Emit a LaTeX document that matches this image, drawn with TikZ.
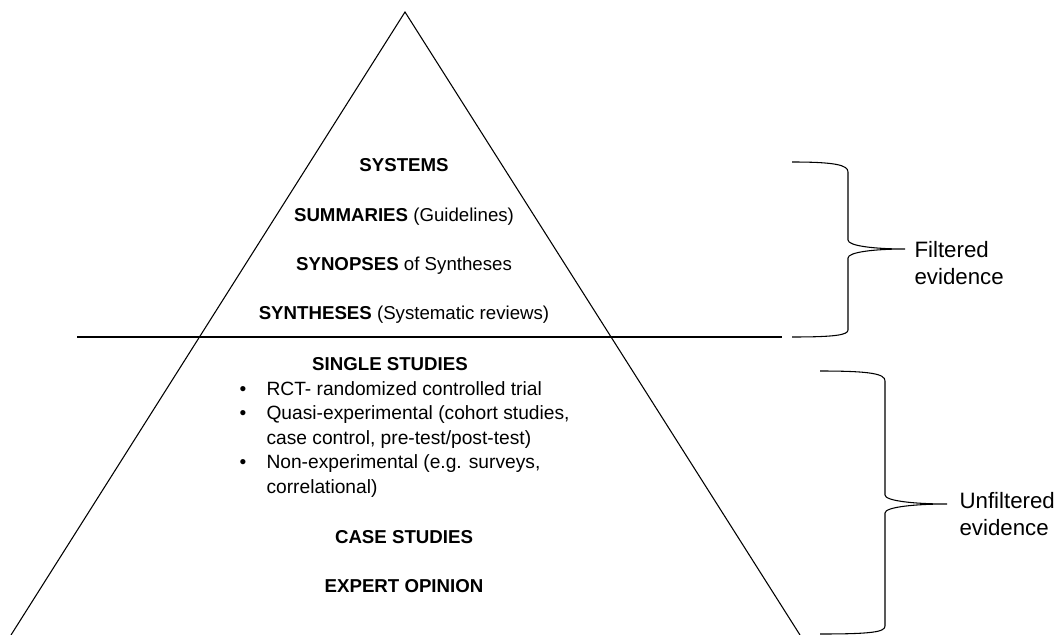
\documentclass[tikz,border=0pt]{standalone}
\usepackage{fontspec}
\setmainfont{Liberation Sans}
\usepackage{tikz}

\begin{document}
\begin{tikzpicture}[x=0.75pt,y=-0.75pt,line width=0.8pt,
        tier/.style={anchor=base,inner sep=0pt,font=\fontsize{14}{18.4}\selectfont},
        side/.style={anchor=base west,inner sep=0pt,align=left,font=\fontsize{16.7}{20.25}\selectfont}]
        \useasboundingbox (0,0) rectangle (1060,635);
        \coordinate (apex) at (405,12);
        \coordinate (baseL) at (11,635);
        \coordinate (baseR) at (800,635);
        \coordinate (cutL) at (77,337);
        \coordinate (cutR) at (782,337);
        \draw (baseL) -- (apex) -- (baseR);
        \draw (cutL) -- (cutR);
        \node[tier] (systems) at (404,171.5) {\textbf{SYSTEMS}};
        \node[tier] (summaries) at (404,221.5) {\textbf{SUMMARIES} (Guidelines)};
        \node[tier] (synopses) at (404,270.5) {\textbf{SYNOPSES} of Syntheses};
        \node[tier] (syntheses) at (404,319.5) {\textbf{SYNTHESES} (Systematic reviews)};
        \node[tier] (single) at (390,370.5) {\textbf{SINGLE STUDIES}};
        \node[tier,anchor=base west,font=\fontsize{14.4}{18.4}\selectfont] (designs) at (239,395) {%
            \begin{tabular}[t]{@{}p{20.25pt}@{}l@{}}
            \textbullet & RCT- randomized controlled trial\\
            \textbullet & Quasi-experimental (cohort studies,\\
                        & case control, pre-test/post-test)\\
            \textbullet & Non-experimental (e.g. surveys,\\
                        & correlational)
            \end{tabular}};
        \node[tier] (cases) at (404,543.5) {\textbf{CASE STUDIES}};
        \node[tier] (expert) at (404,592.5) {\textbf{EXPERT OPINION}};
        \draw (792,162) .. controls (835,162) and (848,165) .. (848,172) -- (848,240)
            .. controls (848,246) and (875,249) .. (905,249)
            .. controls (875,249) and (848,252) .. (848,258) -- (848,330)
            .. controls (848,335) and (835,337) .. (792,337);
        \node[side] (filtered) at (914,284) {Filtered\\evidence};
        \draw (820,371) .. controls (872,371) and (885,374) .. (885,381) -- (885,495)
            .. controls (885,501) and (915,504) .. (947,504)
            .. controls (915,504) and (885,507) .. (885,513) -- (885,626)
            .. controls (885,632) and (872,634) .. (820,634);
        \node[side] (unfiltered) at (959,535) {Unfiltered\\evidence};
\end{tikzpicture}
\end{document}
